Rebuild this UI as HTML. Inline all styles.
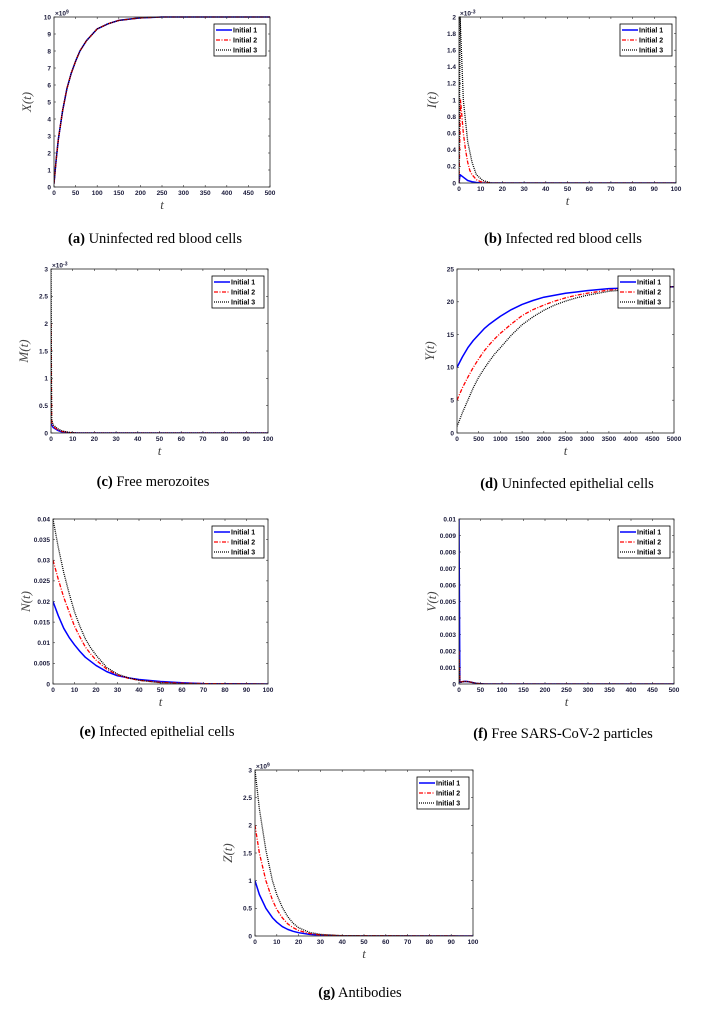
<!DOCTYPE html>
<html><head><meta charset="utf-8">
<style>
html,body{margin:0;padding:0;background:#fff;width:712px;height:1018px;overflow:hidden}
svg{display:block}
.tick{font-family:"Liberation Sans",sans-serif;font-size:6.5px;font-weight:bold;fill:#1a1a3a}
.axl{font-family:"Liberation Serif",serif;font-style:italic;font-size:13px;fill:#444}
.cap{font-family:"Liberation Serif",serif;font-size:14.5px;fill:#000}
.leg{font-family:"Liberation Sans",sans-serif;font-size:7px;font-weight:bold;fill:#000}
</style></head>
<body>
<svg id="fig" width="712" height="1018" viewBox="0 0 712 1018"></svg>
<script>
// ---- data ----
const aT=[0,5,10,20,30,40,50,60,75,100,125,150,200,250,300,500];
const aX=[0.2,1.6,2.8,4.5,5.8,6.7,7.4,8.0,8.6,9.3,9.6,9.8,9.95,10,10,10];
const bT1=[0,0.5,2,4,6,8,10,15,100];
const bI1=[0,0.1,0.07,0.03,0.015,0.006,0.002,0,0];
const bT2=[0,0.7,2,3,4,5,6,8,10,15,100];
const bI2=[0,1,0.6,0.4,0.25,0.15,0.1,0.04,0.015,0,0];
const bT3=[0,0.5,2,4,6,8,11,15,100];
const bI3=[0,2,1,0.5,0.25,0.1,0.03,0,0];
const cT=[0,0.3,1,3,5,8,12,100];
const cM1=[0.2,0.15,0.1,0.05,0.02,0.005,0,0];
const cM2=[2,0.2,0.12,0.06,0.03,0.01,0,0];
const cM3=[3,0.25,0.15,0.08,0.04,0.015,0,0];
const dT=[0,125,250,375,500,625,750,875,1000,1250,1500,1750,2000,2250,2500,2750,3000,3500,4000,4500,5000];
const dY1=[10,11.6,13,14.1,15,15.9,16.6,17.2,17.8,18.8,19.6,20.2,20.7,21.0,21.3,21.5,21.7,22,22.1,22.2,22.3];
const dY2=[5,6.9,8.5,10.0,11.3,12.5,13.5,14.4,15.2,16.6,17.9,18.8,19.5,20.1,20.6,21.0,21.3,21.8,22,22.2,22.3];
const dY3=[1,3.1,5,6.9,8.5,9.8,11,12.1,13,14.9,16.5,17.7,18.7,19.5,20.1,20.6,21,21.6,21.9,22.1,22.3];
const eT=[0,2.5,5,7.5,10,12.5,15,17.5,20,25,30,35,40,50,60,70,100];
const eN1=[.02,.0165,.0135,.0113,.0095,.0079,.0065,.0055,.0045,.003,.002,.0015,.0011,.0006,.0003,.0001,0];
const eN2=[.03,.0253,.021,.0175,.014,.0114,.009,.0073,.0058,.0036,.0022,.0014,.0009,.0004,.0002,.0001,0];
const eN3=[.04,.033,.027,.022,.0175,.014,.011,.0088,.007,.004,.0024,.0015,.0009,.0003,.0001,0,0];
const fT=[0,2,5,10,15,20,30,40,60,500];
const fV1=[.01,.0001,.00012,.00015,.00016,.00015,.0001,.00004,0,0];
const fV2=[.002,.0001,.00012,.00015,.00016,.00015,.0001,.00004,0,0];
const fV3=[.0015,.0001,.00011,.00014,.00015,.00014,.0001,.00004,0,0];
const gT=[0,2,5,8,10,12.5,15,17.5,20,25,30,40,100];
const gZ1=[1,.75,.5,.33,.25,.17,.12,.085,.06,.03,.015,0,0];
const gZ2=[2,1.5,1,.65,.48,.33,.22,.15,.1,.045,.02,.005,0];
const gZ3=[3,2.3,1.55,1.0,.75,.52,.35,.23,.15,.065,.03,.006,0];
const legendLabels=["Initial 1","Initial 2","Initial 3"];

const NS="http://www.w3.org/2000/svg";
const fig=document.getElementById('fig');
function mk(tag,attrs,parent){const e=document.createElementNS(NS,tag);for(const k in attrs)e.setAttribute(k,attrs[k]);(parent||fig).appendChild(e);return e;}
function fmt(v){return (+v.toFixed(6)).toString();}
const styles=[{c:"#0000ff",d:"",w:1.5},{c:"#ff0000",d:"4,1.5,1,1.5",w:1.3},{c:"#000",d:"1,1",w:1.3}];

function panel(id,box,xmax,xstep,ymax,ystep,expo,ylab,cap,capX,capY,series){
  const [x0,y0,x1,y1]=box;
  const g=mk('g',{});
  
  
  const sx=v=>x0+(v/xmax)*(x1-x0);
  const sy=v=>y1-(v/ymax)*(y1-y0);
  const nx=Math.round(xmax/xstep), ny=Math.round(ymax/ystep);
  for(let i=0;i<=nx;i++){const v=i*xstep,x=sx(v);
    mk('line',{x1:x,x2:x,y1:y1,y2:y1-2,stroke:"#333","stroke-width":0.6},g);
    mk('line',{x1:x,x2:x,y1:y0,y2:y0+2,stroke:"#333","stroke-width":0.6},g);
    const t=mk('text',{x:x,y:y1+8,"text-anchor":"middle",class:"tick"},g);t.textContent=fmt(v);
    }
  for(let i=0;i<=ny;i++){const v=i*ystep,y=sy(v);
    mk('line',{x1:x0,x2:x0+2,y1:y,y2:y,stroke:"#333","stroke-width":0.6},g);
    mk('line',{x1:x1,x2:x1-2,y1:y,y2:y,stroke:"#333","stroke-width":0.6},g);
    const t=mk('text',{x:x0-3,y:y+2.3,"text-anchor":"end",class:"tick"},g);t.textContent=fmt(v);
    }
  if(expo){const t=mk('text',{x:x0+1,y:y0-1.5,class:"tick","font-weight":"normal"},g);
    t.innerHTML='×10<tspan dy="-2" font-size="5">'+expo+'</tspan>';
    }
  mk('clipPath',{id:'clip'+id},g);
  mk('rect',{x:x0,y:y0-1,width:x1-x0,height:y1-y0+1},g.lastChild);
  series.forEach((s,i)=>{
    const [ts,vs]=s;let d="";
    ts.forEach((t,j)=>{d+=(j?"L":"M")+sx(t).toFixed(2)+","+sy(vs[j]).toFixed(2);});
    const p=mk('path',{d:d,fill:"none",stroke:styles[i].c,"stroke-width":styles[i].w,"stroke-dasharray":styles[i].d,"clip-path":"url(#clip"+id+")","stroke-linejoin":"round"},g);
    
    
  });
  const fr=mk('rect',{x:x0,y:y0,width:x1-x0,height:y1-y0,fill:"none",stroke:"#222","stroke-width":0.8},g);
  
  const lx=x1-56,ly=y0+7,lw=52,lh=32;
  const lg=mk('g',{},g);
  
  mk('rect',{x:lx,y:ly,width:lw,height:lh,fill:"#fff",stroke:"#000","stroke-width":0.8},lg);
  legendLabels.forEach((l,i)=>{const yy=ly+6+i*10;
    mk('line',{x1:lx+2,x2:lx+18,y1:yy,y2:yy,stroke:styles[i].c,"stroke-width":styles[i].w,"stroke-dasharray":styles[i].d},lg);
    const t=mk('text',{x:lx+19,y:yy+2.5,class:"leg"},lg);t.textContent=l;
    });
  const xl=mk('text',{x:(x0+x1)/2,y:y1+22,"text-anchor":"middle",class:"axl"},g);xl.textContent="t";
  
  const ym=(y0+y1)/2, yx=x0-23;
  const yl=mk('text',{x:yx,y:ym,"text-anchor":"middle",class:"axl",transform:"rotate(-90 "+yx+" "+ym+")"},g);
  yl.textContent=ylab+"(t)";
  
  const c=mk('text',{x:capX,y:capY,"text-anchor":"middle",class:"cap"},g);
  c.innerHTML='<tspan font-weight="bold">('+id+')</tspan> '+cap;
  
}
panel('a',[54,17,270,187],500,50,10,1,'9','X','Uninfected red blood cells',155,243,[[aT,aX],[aT,aX],[aT,aX]]);
panel('b',[459,17,676,183],100,10,2,0.2,'-3','I','Infected red blood cells',563,243,[[bT1,bI1],[bT2,bI2],[bT3,bI3]]);
panel('c',[51,269,268,433],100,10,3,0.5,'-3','M','Free merozoites',153,486,[[cT,cM1],[cT,cM2],[cT,cM3]]);
panel('d',[457,269,674,433],5000,500,25,5,'','Y','Uninfected epithelial cells',567,488,[[dT,dY1],[dT,dY2],[dT,dY3]]);
panel('e',[53,519,268,684],100,10,0.04,0.005,'','N','Infected epithelial cells',157,736,[[eT,eN1],[eT,eN2],[eT,eN3]]);
panel('f',[459,519,674,684],500,50,0.01,0.001,'','V','Free SARS-CoV-2 particles',563,738,[[fT,fV1],[fT,fV2],[fT,fV3]]);
panel('g',[255,770,473,936],100,10,3,0.5,'9','Z','Antibodies',360,997,[[gT,gZ1],[gT,gZ2],[gT,gZ3]]);
</script>
</body></html>
